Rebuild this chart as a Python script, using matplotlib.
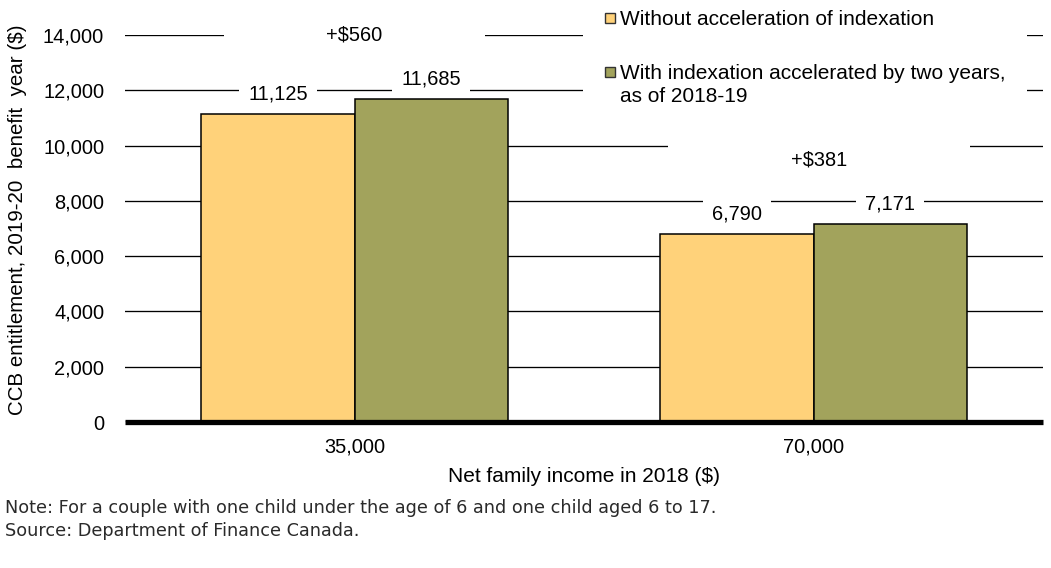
import matplotlib
matplotlib.use("Agg")
import matplotlib.pyplot as plt
from matplotlib.patches import Rectangle
import numpy as np

# Data
categories = ["35,000", "70,000"]
without_accel = [11125, 6790]
with_accel = [11685, 7171]
series_labels = ["Without acceleration of indexation",
                 "With indexation accelerated by two years,\nas of 2018-19"]
y_ticks = [0, 2000, 4000, 6000, 8000, 10000, 12000, 14000]

# Layout of the difference call-outs (value units / category units)
delta_label_y = [14000, 9480]
delta_box_w = [0.57, 0.66]
delta_box_dx = [0.0, 0.012]

YELLOW = "#FFD27A"
GREEN = "#A2A35C"
FS = 14.4

plt.rcParams["font.family"] = ["Liberation Sans", "DejaVu Sans"]

fig = plt.figure(figsize=(10.51, 5.68), dpi=100)
W, H = 1051, 568
ax = fig.add_axes([125 / W, (H - 422) / H, (1043 - 125) / W, (422 - 35) / H])

x = np.arange(len(categories))
bw = 0.334
b1 = ax.bar(x - bw / 2, without_accel, bw, color=YELLOW, edgecolor="black",
            linewidth=1.1, zorder=2)
b2 = ax.bar(x + bw / 2, with_accel, bw, color=GREEN, edgecolor="black",
            linewidth=1.1, zorder=2)

ax.set_xlim(-0.5, len(categories) - 0.5)
ax.set_ylim(0, 14000)
ax.set_yticks(y_ticks)
ax.set_yticklabels([f"{v:,}" for v in y_ticks], fontsize=FS)
ax.set_xticks(x)
ax.set_xticklabels(categories, fontsize=FS)
ax.tick_params(axis="y", length=0, pad=15)
ax.tick_params(axis="x", length=0, pad=11)

ax.grid(axis="y", color="black", linewidth=0.95, zorder=0)
ax.set_axisbelow(True)
for s in ax.spines.values():
    s.set_visible(False)
ax.axhline(0, color="black", linewidth=3.8, zorder=4, clip_on=False,
           solid_capstyle="butt")

ax.set_xlabel("Net family income in 2018 ($)", fontsize=15, labelpad=8)
ax.set_ylabel("CCB entitlement, 2019-20  benefit  year ($)", fontsize=14.8,
              va="center")
ax.yaxis.set_label_coords(-0.1166, 0.522)

# Value labels above each bar
for bars in (b1, b2):
    for rect in bars:
        v = rect.get_height()
        ax.annotate(f"{v:,.0f}", (rect.get_x() + rect.get_width() / 2, v),
                    xytext=(0, 14.4), textcoords="offset points",
                    ha="center", va="center", fontsize=FS, zorder=5,
                    bbox=dict(boxstyle="square,pad=0.45", facecolor="white",
                              edgecolor="none"))

# Difference call-outs
half_h = 20 / 387 * 14000
for i, (a, b) in enumerate(zip(without_accel, with_accel)):
    yc = delta_label_y[i]
    xc = x[i] + delta_box_dx[i]
    ax.add_patch(Rectangle((xc - delta_box_w[i] / 2, yc - half_h),
                           delta_box_w[i], 2 * half_h, facecolor="white",
                           edgecolor="none", zorder=3, clip_on=False))
    ax.text(xc, yc, f"+${b - a:,}", ha="center", va="center",
            fontsize=FS, zorder=5)

# Legend block
fig.patches.append(Rectangle((583 / W, 1 - 122 / H), (1027 - 583) / W,
                             122 / H, transform=fig.transFigure,
                             facecolor="white", edgecolor="none", zorder=2))
for yc, col, lab in zip([18, 72], [YELLOW, GREEN], series_labels):
    fig.patches.append(Rectangle((605 / W, 1 - (yc + 5) / H), 10 / W, 10 / H,
                                 transform=fig.transFigure, facecolor=col,
                                 edgecolor="#333333", linewidth=1.0, zorder=3))
    fig.text(620 / W, 1 - (yc - 8) / H, lab, ha="left", va="top",
             fontsize=15, linespacing=1.3, zorder=4)

fig.text(5 / W, 1 - 508 / H,
         "Note: For a couple with one child under the age of 6 and one child aged 6 to 17.",
         ha="left", va="center", fontsize=12.7, family="DejaVu Sans",
         color="#2a2a2a")
fig.text(5 / W, 1 - 531 / H, "Source: Department of Finance Canada.",
         ha="left", va="center", fontsize=12.7, family="DejaVu Sans",
         color="#2a2a2a")

fig.savefig("out.png", dpi=100)
